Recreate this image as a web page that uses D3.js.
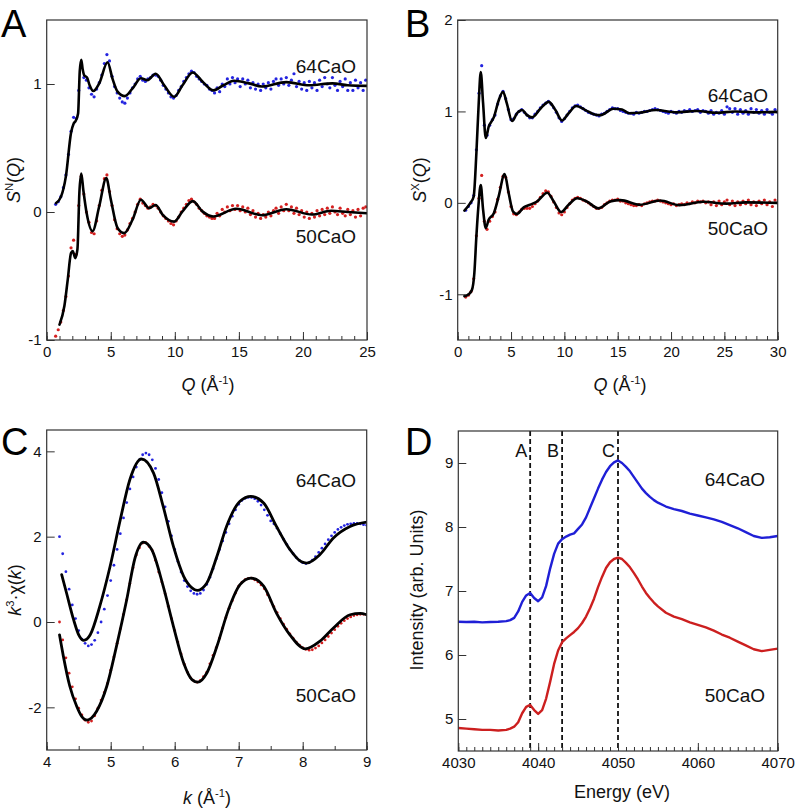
<!DOCTYPE html>
<html><head><meta charset="utf-8">
<script src="https://cdn.jsdelivr.net/npm/d3@7"></script>
<style>
body{margin:0;background:#fff}
svg{display:block;font-family:"Liberation Sans",Arial,Helvetica,sans-serif}
</style>
</head><body>
<svg id="chart" width="799" height="809"></svg>
<script>
// ---------------- DATA ----------------
const seriesNames = ["64CaO", "50CaO"];
const panelLetters = ["A", "B", "C", "D"];

// Panel A : neutron S(Q)
const ticksAx = [0, 5, 10, 15, 20, 25];
const minorAx = [0,1,2,3,4,5,6,7,8,9,10,11,12,13,14,15,16,17,18,19,20,21,22,23,24,25];
const ticksAy = [-1, 0, 1];
const fitA64 = [[0.73,0.07],[1.12,0.12],[1.5,0.28],[1.9,0.62],[2.1,0.69],[2.25,0.71],[2.45,0.77],[2.58,1.1],[2.7,1.19],[2.8,1.12],[2.92,1.07],[3.15,1.05],[3.35,0.99],[3.64,0.945],[4.1,1.005],[4.75,1.17],[5.14,1.04],[5.53,0.94],[6.1,0.905],[6.7,0.965],[7.35,1.045],[7.87,1.03],[8.5,1.08],[9.17,0.99],[9.95,0.9],[10.6,0.99],[11.4,1.09],[12.15,1.02],[13.0,0.95],[13.8,0.99],[14.6,1.025],[15.8,1.005],[16.8,0.98],[18.7,1.015],[20.5,0.99],[22.3,1.005],[23.5,0.99],[25,0.985]];
const fitA50 = [[1.0,-0.88],[1.38,-0.735],[1.64,-0.53],[1.9,-0.32],[2.03,-0.305],[2.23,-0.36],[2.4,-0.29],[2.55,0.15],[2.7,0.3],[2.86,0.17],[3.12,-0.01],[3.58,-0.15],[4.1,0.045],[4.65,0.265],[5.0,0.1],[5.53,-0.125],[6.05,-0.165],[6.7,-0.06],[7.35,0.096],[8.0,0.03],[8.5,0.055],[9.04,-0.02],[9.95,-0.075],[10.6,0.005],[11.4,0.085],[12.15,0.005],[13.0,-0.035],[14.8,0.025],[16.8,-0.025],[18.7,0.022],[20.7,-0.02],[22.2,0.01],[23.5,0.0],[25,-0.01]];
const dotsA64 = [[0.7,0.06],[0.9,0.08],[1.1,0.12],[1.3,0.19],[1.5,0.29],[1.7,0.45],[1.9,0.63],[2.1,0.74],[2.3,0.73],[2.5,0.95],[2.7,1.15],[2.9,1.05],[3.1,1.03],[3.3,0.97],[3.5,0.92],[3.7,0.9],[3.9,0.96],[4.1,1.01],[4.3,1.07],[4.5,1.16],[4.7,1.23],[4.9,1.18],[5.1,1.06],[5.3,0.98],[5.5,0.93],[5.7,0.89],[5.9,0.86],[6.1,0.85],[6.3,0.89],[6.5,0.93],[6.7,0.97],[6.9,1.0],[7.1,1.04],[7.3,1.06],[7.5,1.03],[7.7,1.02],[7.9,1.04],[8.1,1.05],[8.3,1.07],[8.5,1.07],[8.7,1.06],[8.9,1.03],[9.1,0.99],[9.3,0.96],[9.5,0.93],[9.7,0.9],[9.9,0.89],[10.1,0.91],[10.3,0.95],[10.5,0.98],[10.7,1.02],[10.9,1.05],[11.1,1.08],[11.3,1.1],[11.5,1.09],[11.7,1.06],[11.9,1.04],[12.1,1.02],[12.3,1.0],[12.5,0.99],[12.7,0.96],[12.9,0.95],[13.1,0.93],[13.3,0.97],[13.5,0.94],[13.7,1.0],[13.9,0.98],[14.1,1.04],[14.3,1.0],[14.5,1.05],[14.7,1.01],[14.9,1.04],[15.1,0.98],[15.3,1.04],[15.5,1.0],[15.7,1.03],[15.9,0.97],[16.1,1.01],[16.3,0.96],[16.5,1.0],[16.7,0.95],[16.9,1.0],[17.1,0.97],[17.3,1.01],[17.5,0.96],[17.7,1.02],[17.9,1.04],[18.1,0.99],[18.3,1.04],[18.5,1.0],[18.7,1.05],[18.9,0.99],[19.1,1.03],[19.3,1.08],[19.5,0.98],[19.7,1.02],[19.9,0.96],[20.1,1.01],[20.3,0.95],[20.5,1.02],[20.7,0.97],[20.9,1.01],[21.1,0.95],[21.3,1.03],[21.5,0.98],[21.7,1.05],[21.9,1.0],[22.1,0.97],[22.3,1.05],[22.5,0.99],[22.7,0.95],[22.9,1.02],[23.1,0.98],[23.3,1.04],[23.5,0.95],[23.7,1.01],[23.9,0.95],[24.1,1.03],[24.3,0.97],[24.5,1.01],[24.7,0.95],[24.9,1.03]];
const dotsA50 = [[0.7,-0.97],[0.9,-0.92],[1.1,-0.86],[1.3,-0.77],[1.5,-0.66],[1.7,-0.5],[1.9,-0.28],[2.1,-0.22],[2.3,-0.33],[2.5,0.05],[2.7,0.28],[2.9,0.14],[3.1,0.0],[3.3,-0.08],[3.5,-0.16],[3.7,-0.17],[3.9,-0.07],[4.1,0.05],[4.3,0.17],[4.5,0.26],[4.7,0.29],[4.9,0.16],[5.1,0.05],[5.3,-0.06],[5.5,-0.13],[5.7,-0.17],[5.9,-0.19],[6.1,-0.18],[6.3,-0.14],[6.5,-0.09],[6.7,-0.05],[6.9,0.0],[7.1,0.06],[7.3,0.1],[7.5,0.07],[7.7,0.05],[7.9,0.03],[8.1,0.04],[8.3,0.06],[8.5,0.05],[8.7,0.03],[8.9,0.0],[9.1,-0.03],[9.3,-0.05],[9.5,-0.07],[9.7,-0.09],[9.9,-0.1],[10.1,-0.07],[10.3,-0.04],[10.5,0.0],[10.7,0.03],[10.9,0.06],[11.1,0.09],[11.3,0.1],[11.5,0.08],[11.7,0.06],[11.9,0.03],[12.1,0.01],[12.3,-0.01],[12.5,-0.03],[12.7,-0.04],[12.9,-0.05],[13.1,-0.05],[13.3,-0.01],[13.5,-0.03],[13.7,0.02],[13.9,0.0],[14.1,0.04],[14.3,0.01],[14.5,0.05],[14.7,0.02],[14.9,0.05],[15.1,0.01],[15.3,0.04],[15.5,0.0],[15.7,0.03],[15.9,-0.02],[16.1,0.01],[16.3,-0.04],[16.5,-0.01],[16.7,-0.05],[16.9,-0.02],[17.1,-0.04],[17.3,0.0],[17.5,-0.03],[17.7,0.01],[17.9,0.03],[18.1,-0.01],[18.3,0.04],[18.5,0.01],[18.7,0.06],[18.9,0.01],[19.1,0.04],[19.3,-0.01],[19.5,0.03],[19.7,-0.02],[19.9,0.01],[20.1,-0.04],[20.3,0.0],[20.5,-0.05],[20.7,-0.01],[20.9,-0.04],[21.1,0.01],[21.3,-0.03],[21.5,0.02],[21.7,-0.02],[21.9,0.03],[22.1,-0.01],[22.3,0.04],[22.5,0.0],[22.7,-0.02],[22.9,0.03],[23.1,-0.01],[23.3,-0.03],[23.5,0.02],[23.7,-0.02],[23.9,0.01],[24.1,-0.04],[24.3,0.02],[24.5,-0.03],[24.7,0.03],[24.9,0.04]];

// Panel B : X-ray S(Q)
const ticksBx = [0, 5, 10, 15, 20, 25, 30];
const minorBx = [0,1,2,3,4,5,6,7,8,9,10,11,12,13,14,15,16,17,18,19,20,21,22,23,24,25,26,27,28,29,30];
const ticksBy = [-1, 0, 1, 2];
const fitB64 = [[0.63,-0.084],[1.19,0.0],[1.5,0.07],[1.75,0.54],[1.97,1.09],[2.16,1.43],[2.38,1.09],[2.63,0.71],[2.9,0.83],[3.4,0.94],[3.84,1.12],[4.25,1.215],[4.6,1.09],[5.1,0.895],[5.56,0.98],[6.03,1.015],[6.5,0.96],[6.97,0.935],[7.75,1.03],[8.53,1.105],[9.16,1.015],[9.78,0.9],[10.4,0.98],[11.1,1.06],[11.97,1.015],[12.75,0.97],[13.4,0.96],[14.6,1.03],[15.4,1.02],[16.1,0.98],[17.0,0.985],[18.6,1.015],[20.5,0.99],[22.4,1.005],[24.3,0.985],[26,1.0],[28,0.99],[30,0.995]];
const fitB50 = [[0.63,-1.02],[1.03,-1.0],[1.34,-0.95],[1.56,-0.77],[1.75,-0.37],[1.94,-0.04],[2.16,0.195],[2.38,-0.075],[2.63,-0.275],[2.9,-0.185],[3.4,-0.11],[3.84,0.07],[4.4,0.315],[4.78,0.105],[5.19,-0.095],[5.56,-0.12],[6.19,-0.05],[6.8,-0.02],[7.44,0.015],[8.4,0.11],[9.0,0.015],[9.7,-0.1],[10.4,-0.02],[11.2,0.05],[12.1,0.015],[13.2,-0.06],[14.3,0.015],[15.25,0.03],[17.1,-0.02],[18.97,0.025],[20.8,-0.025],[23.0,0.012],[25.2,-0.008],[27,0.005],[30,0.0]];
const dotsB64 = [[0.75,-0.08],[1.0,-0.04],[1.25,0.0],[1.5,0.08],[1.75,0.58],[2.0,1.2],[2.25,1.5],[2.5,0.85],[2.75,0.74],[3.0,0.85],[3.25,0.91],[3.5,0.96],[3.75,1.08],[4.0,1.17],[4.25,1.22],[4.5,1.14],[4.75,1.02],[5.0,0.91],[5.25,0.92],[5.5,0.97],[5.75,1.0],[6.0,1.02],[6.25,0.99],[6.5,0.96],[6.75,0.93],[7.0,0.93],[7.25,0.97],[7.5,1.0],[7.75,1.04],[8.0,1.07],[8.25,1.09],[8.5,1.11],[8.75,1.08],[9.0,1.04],[9.25,0.99],[9.5,0.93],[9.75,0.89],[10.0,0.92],[10.25,0.96],[10.5,1.0],[10.75,1.04],[11.0,1.06],[11.25,1.07],[11.5,1.05],[11.75,1.03],[12.0,1.01],[12.25,0.99],[12.5,0.98],[12.75,0.97],[13.0,0.96],[13.25,0.95],[13.5,0.97],[13.75,0.98],[14.0,1.0],[14.25,1.02],[14.5,1.04],[14.75,1.03],[15.0,1.03],[15.25,1.01],[15.5,1.0],[15.75,0.99],[16.0,0.98],[16.25,0.98],[16.5,0.97],[16.75,0.99],[17.0,0.98],[17.25,0.99],[17.5,1.0],[17.75,1.0],[18.0,1.01],[18.25,1.02],[18.5,1.03],[18.75,1.02],[19.0,1.01],[19.25,1.0],[19.5,0.99],[19.75,0.98],[20.0,1.0],[20.25,0.99],[20.5,0.98],[20.75,1.0],[21.0,0.99],[21.25,1.01],[21.5,1.0],[21.75,1.02],[22.0,1.0],[22.25,1.01],[22.5,1.02],[22.75,0.99],[23.0,1.01],[23.25,1.0],[23.5,0.98],[23.75,1.01],[24.0,0.97],[24.25,0.99],[24.5,0.98],[24.75,1.01],[25.0,0.97],[25.25,1.05],[25.5,1.03],[25.75,0.99],[26.0,1.03],[26.25,0.97],[26.5,1.02],[26.75,0.98],[27.0,1.01],[27.25,0.97],[27.5,1.03],[27.75,0.99],[28.0,1.02],[28.25,0.98],[28.5,1.01],[28.75,0.97],[29.0,1.02],[29.25,0.99],[29.5,0.97],[29.75,1.02],[30.0,0.99]];
const dotsB50 = [[0.75,-1.03],[1.0,-1.01],[1.25,-0.97],[1.5,-0.83],[1.75,-0.36],[2.0,0.05],[2.25,0.3],[2.5,-0.2],[2.75,-0.29],[3.0,-0.2],[3.25,-0.15],[3.5,-0.1],[3.75,0.04],[4.0,0.17],[4.25,0.29],[4.5,0.28],[4.75,0.12],[5.0,-0.04],[5.25,-0.12],[5.5,-0.13],[5.75,-0.1],[6.0,-0.07],[6.25,-0.06],[6.5,-0.06],[6.75,-0.06],[7.0,-0.04],[7.25,-0.01],[7.5,0.02],[7.75,0.06],[8.0,0.1],[8.25,0.13],[8.5,0.12],[8.75,0.07],[9.0,0.01],[9.25,-0.05],[9.5,-0.11],[9.75,-0.13],[10.0,-0.1],[10.25,-0.05],[10.5,-0.01],[10.75,0.03],[11.0,0.05],[11.25,0.06],[11.5,0.05],[11.75,0.03],[12.0,0.02],[12.25,0.0],[12.5,-0.02],[12.75,-0.04],[13.0,-0.06],[13.25,-0.06],[13.5,-0.05],[13.75,-0.02],[14.0,0.0],[14.25,0.02],[14.5,0.03],[14.75,0.03],[15.0,0.04],[15.25,0.02],[15.5,0.02],[15.75,0.0],[16.0,-0.01],[16.25,-0.02],[16.5,-0.03],[16.75,-0.03],[17.0,-0.02],[17.25,-0.03],[17.5,-0.01],[17.75,0.0],[18.0,0.01],[18.25,0.02],[18.5,0.02],[18.75,0.03],[19.0,0.02],[19.25,0.01],[19.5,0.0],[19.75,-0.01],[20.0,-0.02],[20.25,-0.01],[20.5,-0.03],[20.75,-0.02],[21.0,-0.01],[21.25,-0.02],[21.5,0.0],[21.75,-0.01],[22.0,0.01],[22.25,0.0],[22.5,0.02],[22.75,0.01],[23.0,0.02],[23.25,0.0],[23.5,0.01],[23.75,-0.02],[24.0,0.01],[24.25,-0.03],[24.5,0.02],[24.75,-0.02],[25.0,0.01],[25.25,0.03],[25.5,-0.02],[25.75,0.02],[26.0,-0.03],[26.25,0.01],[26.5,-0.02],[26.75,0.02],[27.0,-0.01],[27.25,0.03],[27.5,-0.02],[27.75,0.01],[28.0,-0.03],[28.25,0.02],[28.5,-0.01],[28.75,0.03],[29.0,-0.02],[29.25,0.01],[29.5,-0.04],[29.75,0.03],[30.0,0.0]];

// Panel C : EXAFS k^3 chi(k)
const ticksCx = [4, 5, 6, 7, 8, 9];
const minorCx = [4, 4.5, 5, 5.5, 6, 6.5, 7, 7.5, 8, 8.5, 9];
const ticksCy = [-2, 0, 2, 4];
const fitC64 = [[4.234,1.11],[4.31,0.68],[4.42,0.055],[4.5,-0.3],[4.58,-0.43],[4.68,-0.3],[4.83,0.37],[4.99,1.3],[5.15,2.4],[5.3,3.34],[5.48,3.82],[5.67,3.49],[5.82,2.71],[5.98,1.77],[6.14,1.07],[6.27,0.8],[6.35,0.74],[6.5,0.91],[6.66,1.54],[6.81,2.24],[7.02,2.83],[7.19,2.945],[7.39,2.79],[7.59,2.24],[7.8,1.7],[7.98,1.41],[8.06,1.38],[8.27,1.58],[8.48,1.97],[8.74,2.24],[9.0,2.34]];
const fitC50 = [[4.2,-0.3],[4.26,-0.8],[4.36,-1.5],[4.47,-1.98],[4.55,-2.22],[4.63,-2.3],[4.7,-2.25],[4.78,-2.09],[4.94,-1.5],[5.09,-0.57],[5.25,0.52],[5.38,1.5],[5.51,1.87],[5.64,1.7],[5.82,0.84],[5.98,-0.1],[6.14,-0.96],[6.27,-1.35],[6.36,-1.41],[6.5,-1.2],[6.66,-0.57],[6.84,0.29],[7.02,0.875],[7.19,1.03],[7.39,0.84],[7.59,0.21],[7.8,-0.3],[8.04,-0.63],[8.27,-0.45],[8.48,-0.14],[8.74,0.17],[8.9,0.2],[9.0,0.17]];
const dotsC64 = [[4.2,2.0],[4.25,1.6],[4.3,1.18],[4.35,0.77],[4.4,0.4],[4.45,0.08],[4.5,-0.2],[4.55,-0.4],[4.6,-0.5],[4.65,-0.56],[4.7,-0.53],[4.75,-0.43],[4.8,-0.25],[4.85,0.0],[4.9,0.3],[4.95,0.62],[5.0,0.97],[5.05,1.33],[5.1,1.7],[5.15,2.07],[5.2,2.44],[5.25,2.8],[5.3,3.12],[5.35,3.4],[5.4,3.63],[5.45,3.8],[5.5,3.92],[5.55,3.96],[5.6,3.92],[5.65,3.8],[5.7,3.6],[5.75,3.34],[5.8,3.03],[5.85,2.7],[5.9,2.36],[5.95,2.02],[6.0,1.7],[6.05,1.42],[6.1,1.17],[6.15,0.97],[6.2,0.83],[6.25,0.73],[6.3,0.67],[6.35,0.65],[6.4,0.67],[6.45,0.75],[6.5,0.88],[6.55,1.05],[6.6,1.25],[6.65,1.48],[6.7,1.7],[6.75,1.9],[6.8,2.1],[6.85,2.3],[6.9,2.48],[6.95,2.63],[7.0,2.76],[7.05,2.85],[7.1,2.9],[7.15,2.92],[7.2,2.92],[7.25,2.89],[7.3,2.83],[7.35,2.74],[7.4,2.63],[7.45,2.5],[7.5,2.37],[7.55,2.3],[7.6,2.2],[7.65,2.07],[7.7,1.94],[7.75,1.82],[7.8,1.7],[7.85,1.6],[7.9,1.51],[7.95,1.44],[8.0,1.39],[8.05,1.37],[8.1,1.39],[8.15,1.45],[8.2,1.53],[8.25,1.63],[8.3,1.73],[8.35,1.83],[8.4,1.93],[8.45,2.02],[8.5,2.1],[8.55,2.17],[8.6,2.22],[8.65,2.26],[8.7,2.29],[8.75,2.3],[8.8,2.31],[8.85,2.31],[8.9,2.3],[8.95,2.28],[9.0,2.27]];
const dotsC50 = [[4.2,0.0],[4.25,-0.42],[4.3,-0.84],[4.35,-1.2],[4.4,-1.52],[4.45,-1.8],[4.5,-2.02],[4.55,-2.18],[4.6,-2.3],[4.65,-2.35],[4.7,-2.32],[4.75,-2.2],[4.8,-2.02],[4.85,-1.83],[4.9,-1.65],[4.95,-1.44],[5.0,-1.13],[5.05,-0.82],[5.1,-0.5],[5.15,-0.16],[5.2,0.18],[5.25,0.52],[5.3,0.9],[5.35,1.27],[5.4,1.57],[5.45,1.74],[5.5,1.85],[5.55,1.86],[5.6,1.77],[5.65,1.67],[5.7,1.45],[5.75,1.17],[5.8,0.94],[5.85,0.66],[5.9,0.37],[5.95,0.08],[6.0,-0.2],[6.05,-0.47],[6.1,-0.75],[6.15,-0.99],[6.2,-1.18],[6.25,-1.31],[6.3,-1.38],[6.35,-1.41],[6.4,-1.37],[6.45,-1.28],[6.5,-1.18],[6.55,-0.98],[6.6,-0.78],[6.65,-0.6],[6.7,-0.38],[6.75,-0.14],[6.8,0.1],[6.85,0.32],[6.9,0.5],[6.95,0.68],[7.0,0.84],[7.05,0.93],[7.1,0.99],[7.15,1.02],[7.2,1.03],[7.25,0.99],[7.3,0.94],[7.35,0.87],[7.4,0.78],[7.45,0.64],[7.5,0.5],[7.55,0.36],[7.6,0.22],[7.65,0.08],[7.7,-0.05],[7.75,-0.17],[7.8,-0.28],[7.85,-0.38],[7.9,-0.47],[7.95,-0.54],[8.0,-0.6],[8.05,-0.64],[8.1,-0.66],[8.15,-0.65],[8.2,-0.61],[8.25,-0.56],[8.3,-0.49],[8.35,-0.42],[8.4,-0.34],[8.45,-0.26],[8.5,-0.18],[8.55,-0.1],[8.6,-0.03],[8.65,0.03],[8.7,0.08],[8.75,0.12],[8.8,0.15],[8.85,0.17],[8.9,0.18],[8.95,0.18],[9.0,0.17]];

// Panel D : XANES
const ticksDx = [4030, 4040, 4050, 4060, 4070];
const minorDx = [4030,4031,4032,4033,4034,4035,4036,4037,4038,4039,4040,4041,4042,4043,4044,4045,4046,4047,4048,4049,4050,4051,4052,4053,4054,4055,4056,4057,4058,4059,4060,4061,4062,4063,4064,4065,4066,4067,4068,4069,4070];
const ticksDy = [5, 6, 7, 8, 9];
const featureEnergies = [4039, 4043, 4050];
const featureLabels = ["A", "B", "C"];
const xanes64 = [[4030,6.52],[4031,6.515],[4032,6.52],[4033,6.51],[4034,6.515],[4035,6.52],[4036,6.53],[4036.5,6.545],[4037,6.58],[4037.5,6.68],[4038,6.83],[4038.5,6.93],[4039,6.97],[4039.5,6.89],[4040,6.84],[4040.5,6.9],[4041,7.08],[4041.5,7.35],[4042,7.58],[4042.5,7.74],[4043,7.81],[4043.5,7.85],[4044,7.88],[4044.5,7.9],[4045,7.97],[4045.5,8.04],[4046,8.15],[4046.5,8.3],[4047,8.45],[4047.5,8.6],[4048,8.74],[4048.5,8.86],[4049,8.95],[4049.5,9.01],[4050,9.04],[4050.5,9.0],[4051,8.94],[4051.5,8.87],[4052,8.78],[4052.5,8.69],[4053,8.6],[4053.5,8.53],[4054,8.47],[4054.5,8.42],[4055,8.38],[4056,8.32],[4057,8.28],[4058,8.25],[4059,8.21],[4060,8.18],[4061,8.15],[4062,8.12],[4063,8.08],[4064,8.03],[4065,7.98],[4066,7.92],[4067,7.86],[4068,7.83],[4069,7.84],[4070,7.86]];
const xanes50 = [[4030,4.86],[4031,4.85],[4032,4.84],[4033,4.83],[4034,4.83],[4035,4.82],[4036,4.83],[4036.5,4.85],[4037,4.88],[4037.5,4.95],[4038,5.09],[4038.5,5.19],[4039,5.22],[4039.5,5.14],[4040,5.08],[4040.5,5.14],[4041,5.32],[4041.5,5.58],[4042,5.86],[4042.5,6.07],[4043,6.2],[4043.5,6.26],[4044,6.31],[4044.5,6.36],[4045,6.42],[4045.5,6.5],[4046,6.6],[4046.5,6.73],[4047,6.88],[4047.5,7.06],[4048,7.22],[4048.5,7.36],[4049,7.45],[4049.5,7.5],[4050,7.52],[4050.5,7.5],[4051,7.44],[4051.5,7.37],[4052,7.28],[4052.5,7.18],[4053,7.07],[4053.5,6.97],[4054,6.89],[4054.5,6.82],[4055,6.76],[4056,6.66],[4057,6.6],[4058,6.56],[4059,6.51],[4060,6.47],[4061,6.43],[4062,6.38],[4063,6.32],[4064,6.27],[4065,6.21],[4066,6.15],[4067,6.09],[4068,6.06],[4069,6.08],[4070,6.1]];

// ---------------- DRAWING ----------------
const BLUE = "#1f1fd6", RED = "#cc1f1f", DOTBLUE = "#2424e0", DOTRED = "#d42020";
const svg = d3.select("#chart");

function rich(g, x, y, parts, size, rotate, anchor) {
  const t = g.append("text")
    .attr("x", x).attr("y", y)
    .attr("font-size", size).attr("fill", "#111")
    .attr("text-anchor", anchor || "middle");
  if (rotate) t.attr("transform", `rotate(-90,${x},${y})`);
  let shift = 0;
  parts.forEach(p => {
    const s = t.append("tspan").text(p.t);
    if (p.i) s.attr("font-style", "italic");
    if (p.sup) {
      s.attr("font-size", size * 0.62).attr("dy", -size * 0.38 - shift);
      shift = -size * 0.38;
    } else if (shift !== 0) {
      s.attr("dy", -shift); shift = 0;
    }
  });
  return t;
}

function panel(o) {
  const [l, t, r, b] = o.box;
  const x = d3.scaleLinear().domain(o.xd).range([l, r]);
  const y = d3.scaleLinear().domain(o.yd).range([b, t]);
  const g = svg.append("g");
  const cid = "clip" + o.letter;
  g.append("clipPath").attr("id", cid).append("rect")
    .attr("x", l).attr("y", t).attr("width", r - l).attr("height", b - t);
  const plot = g.append("g").attr("clip-path", `url(#${cid})`);

  if (o.under) o.under(plot, x, y);

  (o.dots || []).forEach(d => {
    plot.append("g").selectAll("circle").data(d.data).join("circle")
      .attr("cx", p => x(p[0])).attr("cy", p => y(p[1]))
      .attr("r", d.r || 1.6).attr("fill", d.color);
  });
  (o.lines || []).forEach(d => {
    plot.append("path").datum(d.data)
      .attr("fill", "none").attr("stroke", d.color)
      .attr("stroke-width", d.w).attr("stroke-linejoin", "round").attr("stroke-linecap", "round")
      .attr("d", d3.line().x(p => x(p[0])).y(p => y(p[1])).curve(d.curve || d3.curveMonotoneX));
  });

  const fmt = v => String(v);
  const ax = g.append("g").attr("transform", `translate(0,${b})`)
    .call(d3.axisBottom(x).tickValues(o.xt).tickSize(-8).tickPadding(6).tickFormat(fmt));
  const axm = g.append("g").attr("transform", `translate(0,${b})`)
    .call(d3.axisBottom(x).tickValues(o.xm).tickSize(-4).tickFormat(""));
  const ay = g.append("g").attr("transform", `translate(${l},0)`)
    .call(d3.axisLeft(y).tickValues(o.yt).tickSize(-8).tickPadding(5).tickFormat(fmt));
  [ax, axm, ay].forEach(a => {
    a.select(".domain").remove();
    a.selectAll("line").attr("stroke", "#333").attr("stroke-width", 1);
    a.selectAll("text").attr("font-size", 15).attr("fill", "#111")
      .attr("font-family", '"Liberation Sans",Arial,sans-serif');
  });

  g.append("rect").attr("x", l).attr("y", t).attr("width", r - l).attr("height", b - t)
    .attr("fill", "none").attr("stroke", "#333").attr("stroke-width", 1.2);

  o.labels.forEach(s => {
    g.append("text").attr("x", s.x).attr("y", s.y).attr("text-anchor", "end")
      .attr("font-size", 19).attr("fill", "#111").text(s.text);
  });
  g.append("text").attr("x", o.lpos[0]).attr("y", o.lpos[1])
    .attr("font-size", 38).attr("fill", "#000").text(o.letter);
  rich(g, o.xl[0], o.xl[1], o.xparts, 18, false);
  rich(g, o.yl[0], o.yl[1], o.yparts, 18, true);
  return {x, y, g};
}

const qParts = [{t:"Q", i:true},{t:" (Å"},{t:"-1", sup:true},{t:")"}];

panel({
  letter: panelLetters[0], box: [46.7, 20, 367, 340], xd: [0, 25], yd: [-1, 1.5],
  xt: ticksAx, xm: minorAx, yt: ticksAy,
  dots: [{data: dotsA64, color: DOTBLUE}, {data: dotsA50, color: DOTRED}],
  lines: [{data: fitA64, color: "#000", w: 2.6}, {data: fitA50, color: "#000", w: 2.6}],
  labels: [{text: seriesNames[0], x: 356, y: 73}, {text: seriesNames[1], x: 356, y: 243}],
  lpos: [1, 37], xl: [208, 391], xparts: qParts,
  yl: [20, 180], yparts: [{t:"S", i:true},{t:"N", sup:true},{t:"("},{t:"Q", i:true},{t:")"}]
});

panel({
  letter: panelLetters[1], box: [457.7, 20, 777.7, 340], xd: [0, 30], yd: [-1.5, 2],
  xt: ticksBx, xm: minorBx, yt: ticksBy,
  dots: [{data: dotsB64, color: DOTBLUE}, {data: dotsB50, color: DOTRED}],
  lines: [{data: fitB64, color: "#000", w: 2.6}, {data: fitB50, color: "#000", w: 2.6}],
  labels: [{text: seriesNames[0], x: 768, y: 102}, {text: seriesNames[1], x: 768, y: 235}],
  lpos: [405, 37], xl: [620, 391], xparts: qParts,
  yl: [426, 180], yparts: [{t:"S", i:true},{t:"X", sup:true},{t:"("},{t:"Q", i:true},{t:")"}]
});

panel({
  letter: panelLetters[2], box: [46.7, 430, 366.7, 750], xd: [4, 9], yd: [-3, 4.5],
  xt: ticksCx, xm: minorCx, yt: ticksCy,
  dots: [{data: dotsC64, color: DOTBLUE, r: 1.4}, {data: dotsC50, color: DOTRED, r: 1.4}],
  lines: [{data: fitC64, color: "#000", w: 2.8}, {data: fitC50, color: "#000", w: 2.8}],
  labels: [{text: seriesNames[0], x: 356, y: 487}, {text: seriesNames[1], x: 356, y: 702}],
  lpos: [1, 455], xl: [207, 804], xparts: [{t:"k", i:true},{t:" (Å"},{t:"-1", sup:true},{t:")"}],
  yl: [21, 590], yparts: [{t:"k", i:true},{t:"3", sup:true},{t:"·χ("},{t:"k", i:true},{t:")"}]
});

panel({
  letter: panelLetters[3], box: [458.3, 431, 777.7, 751], xd: [4030, 4070], yd: [4.5, 9.5],
  xt: ticksDx, xm: minorDx, yt: ticksDy,
  under: (plot, x, y) => {
    plot.selectAll("line.feat").data(featureEnergies).join("line")
      .attr("x1", d => x(d)).attr("x2", d => x(d))
      .attr("y1", y(9.5)).attr("y2", y(4.5))
      .attr("stroke", "#111").attr("stroke-width", 1.8).attr("stroke-dasharray", "5,3");
    plot.selectAll("text.feat").data(featureEnergies).join("text")
      .attr("x", d => x(d) - 3).attr("y", 457).attr("text-anchor", "end")
      .attr("font-size", 18).attr("fill", "#111").text((d, i) => featureLabels[i]);
  },
  lines: [{data: xanes64, color: BLUE, w: 2.4, curve: d3.curveLinear}, {data: xanes50, color: RED, w: 2.4, curve: d3.curveLinear}],
  labels: [{text: seriesNames[0], x: 765, y: 486}, {text: seriesNames[1], x: 765, y: 702}],
  lpos: [405, 455], xl: [622, 798], xparts: [{t:"Energy (eV)"}],
  yl: [423, 590], yparts: [{t:"Intensity (arb. Units)"}]
});
</script>
</body></html>
